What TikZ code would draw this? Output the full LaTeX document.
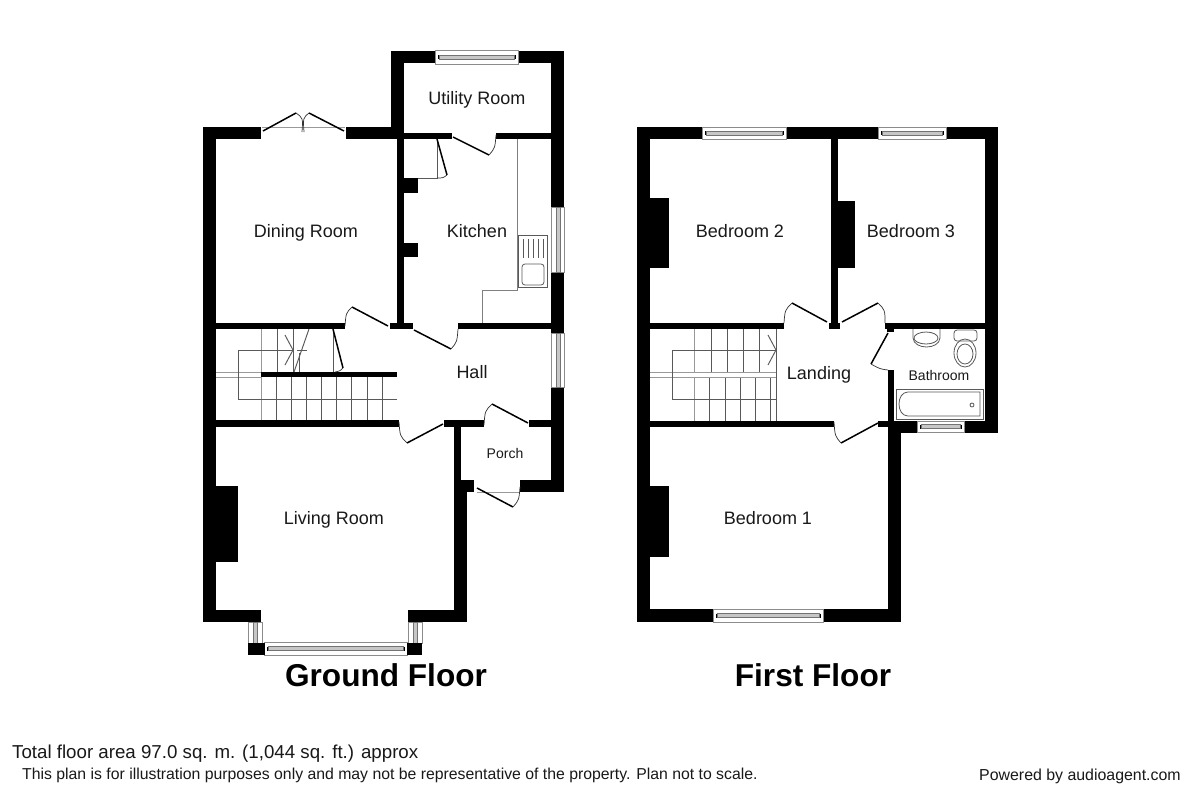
\documentclass[tikz,border=0pt]{standalone}
\usepackage{fontspec}
\setmainfont{Liberation Sans}
\tikzset{
  wall/.style={fill=black},
  leaf/.style={draw=black,line width=1.5pt},
  swing/.style={draw=black!80,line width=0.7pt},
  thinline/.style={draw=black!65,line width=0.95pt},
  counter/.style={draw=black!50,line width=0.9pt},
  paleline/.style={draw=black!40,line width=1pt},
  fit/.style={draw=black!65,line width=0.8pt},
  room/.style={inner sep=0pt,text=black!90,font=\fontsize{18}{20}\selectfont},
  smallroom/.style={inner sep=0pt,text=black!90,font=\fontsize{14}{16}\selectfont},
  floortitle/.style={inner sep=0pt,font=\fontsize{31.6}{34}\selectfont\bfseries},
  foot/.style={inner sep=0pt,anchor=west,text=black!90}
}
% horizontal window: x1,x2,y1,y2
\newcommand{\hwin}[4]{%
  \draw[fill=white,draw=black!45,line width=0.7pt] (#1,#3) rectangle (#2,#4);
  \draw[fill=black!22,draw=black!55,line width=0.5pt] ({#1+4},{(#3+#4)/2-2}) rectangle ({#2-4},{(#3+#4)/2+2});
  \draw[black,line width=0.8pt] ({#1+3},{(#3+#4)/2-2}) -- ({#1+3},{(#3+#4)/2+2}) ({#2-3},{(#3+#4)/2-2}) -- ({#2-3},{(#3+#4)/2+2});
}
% vertical window: x1,x2,y1,y2
\newcommand{\vwin}[4]{%
  \draw[fill=white,draw=black!45,line width=0.7pt] (#1,#3) rectangle (#2,#4);
  \draw[fill=black!22,draw=black!55,line width=0.5pt] ({(#1+#2)/2-2},#3) rectangle ({(#1+#2)/2+2},#4);
}
\newcommand{\rect}[4]{\fill[wall] (#1,#2) rectangle (#3,#4);}
\newcommand{\door}[4]{% hinge, tip, control, end
  \draw[leaf] #1 -- #2;
  \draw[swing] #2 .. controls #3 .. #4;
}
\begin{document}
\begin{tikzpicture}[x=1pt,y=-1pt]
\useasboundingbox (0,0) rectangle (1200,800);
\fill[white] (0,0) rectangle (1200,800);

%%% GROUND FLOOR walls
\rect{203}{127}{261}{139}
\rect{346}{127}{404}{139}
\rect{203}{127}{216}{622}
\rect{391}{51}{404}{139}
\rect{391}{51}{435}{63.5}
\rect{518}{51}{564}{63.5}
\rect{551}{51}{564}{207}
\rect{551}{272}{564}{333}
\rect{551}{387}{564}{492}
\rect{404}{133}{452}{139}
\rect{496}{133}{551}{139}
\rect{397}{139}{404}{325}
\rect{404}{178}{418}{193}
\rect{404}{243}{418}{257}
\rect{216}{323}{345}{329}
\rect{390}{323}{413}{329}
\rect{458}{323}{551}{329}
\rect{261}{372}{397}{377}
\rect{216}{420}{399}{427}
\rect{444}{420}{484}{427}
\rect{529}{420}{551}{427}
\rect{454}{427}{461}{480}
\rect{454}{480}{474}{492}
\rect{454}{492}{467}{622}
\rect{520}{480}{564}{492}
\rect{216}{486}{238}{562}
\rect{203}{610}{261}{622}
\rect{408}{610}{467}{622}

%%% windows ground floor
\hwin{435}{518}{50.5}{64}
\vwin{551.5}{564}{207}{272}
\vwin{551.5}{564}{333}{387}
\vwin{248}{262}{622}{643}
\vwin{408}{422}{622}{643}
\hwin{264}{407}{642}{655}
\rect{248}{643}{264.5}{655}
\rect{407}{643}{422}{655}

%%% doors ground floor
\draw[paleline] (262,127.5) -- (345,127.5);
\door{(263,131)}{(296,113)}{(303,118)}{(302,132)}
\door{(344,131)}{(309,113)}{(303,118)}{(304,132)}
\door{(453,137)}{(489,155)}{(495,148)}{(496,135)}
\draw[fit] (418,178) -- (437,178) -- (437,139);
\door{(437,139)}{(447,175)}{(443,178)}{(437,178)}
\door{(388,326)}{(352,307)}{(346,313)}{(345,326)}
\door{(414,330)}{(451,349)}{(457,342)}{(458,329)}
\door{(443,424)}{(407,443)}{(400,436)}{(399,422)}
\door{(528,423)}{(492,404)}{(485,411)}{(484,425)}
\draw[paleline] (477,492) -- (520,492);
\door{(477,488)}{(513,507)}{(519,500)}{(520,487)}
\draw[fit] (333,329) -- (333,372);
\door{(333,329)}{(343,368)}{(340,371)}{(335,372)}

%%% kitchen fittings
\draw[counter] (517,139) -- (517,290) -- (482,290) -- (482,323);
\draw[fit,fill=white] (518,235) rectangle (547,287);
\draw[fit,rounded corners=3pt] (522,264) rectangle (544,285);
\foreach \xr in {523,528,533,538,543}{\draw[fit] (\xr,239) -- (\xr,258);}

%%% stairs ground floor
\foreach \xs in {277,293}{\draw[thinline] (\xs,329) -- (\xs,372);}
\draw[paleline] (261,329) -- (261,372);
\draw[thinline] (309,329) -- (294,372);
\draw[thinline] (299,353) -- (299,372);
\draw[paleline] (216,372) -- (261,372) (216,377) -- (261,377);
\draw[paleline] (261,377) -- (261,420);
\foreach \xs in {276,291,306,321,336,351,367,382}{\draw[thinline] (\xs,377) -- (\xs,420);}
\draw[thinline] (293,350) -- (238,350) -- (238,399) -- (397,399);
\draw[thinline] (285,335) -- (293,350) -- (285,365);
\draw[thinline] (297,350) -- (307,350);

%%% FIRST FLOOR walls
\rect{637}{127}{702}{139}
\rect{786}{127}{878}{139}
\rect{946}{127}{998}{139}
\rect{637}{127}{650}{622}
\rect{985}{127}{998}{433}
\rect{831}{139}{838}{323}
\rect{650}{198}{669}{268}
\rect{838}{201}{855}{268}
\rect{650}{486}{669}{557}
\rect{650}{323}{784}{329}
\rect{829}{323}{840}{329}
\rect{885}{323}{985}{329}
\rect{887}{329}{894}{332}
\rect{888}{370}{894}{421}
\rect{650}{421}{834}{427}
\rect{878}{421}{917}{427}
\rect{888}{427}{917}{433}
\rect{964}{421}{998}{433}
\rect{888}{427}{901}{622}
\rect{637}{609}{713}{622}
\rect{823}{609}{901}{622}

%%% windows first floor
\hwin{702}{786}{127}{139}
\hwin{878}{946}{127}{139}
\hwin{713}{823}{609}{622}
\hwin{917}{964}{421}{432}

%%% doors first floor
\door{(827,322)}{(792,303)}{(785,310)}{(784,323)}
\door{(842,322)}{(878,303)}{(885,310)}{(885,323)}
\door{(888,333)}{(871,364)}{(880,369)}{(888,370)}
\door{(878,423)}{(841,443)}{(835,436)}{(834,422)}

%%% stairs first floor
\draw[paleline] (694,329) -- (694,372);
\foreach \xs in {711,727,743,759}{\draw[thinline] (\xs,329) -- (\xs,372);}
\draw[paleline] (694,377) -- (694,421);
\foreach \xs in {709,725,740,755,770}{\draw[thinline] (\xs,377) -- (\xs,421);}
\draw[thinline] (776,329) -- (776,421);
\draw[paleline] (650,372) -- (776,372) (650,377) -- (776,377);
\draw[thinline] (776,350) -- (672,350) -- (672,399) -- (776,399);
\draw[thinline] (768,335) -- (776,350) -- (768,365);

%%% bathroom
\draw[fit] (913,329) -- (913,338) .. controls (914,350) and (939,350) .. (940,338) -- (940,329);
\draw[fit] (926,338) ellipse (12 and 6);
\draw[fit,rounded corners=3pt] (954,330) rectangle (977,341);
\draw[fit] (965,353) ellipse (11 and 14);
\draw[fit] (965,354) ellipse (8 and 10);
\draw[fit] (896,389) rectangle (983,419);
\draw[fit] (980,392) -- (908,392) .. controls (896,392) and (896,416) .. (908,416) -- (980,416) -- cycle;
\draw[fit] (972,405) circle (2);

%%% labels
\node[room] (utility) at (477,100) {Utility Room};
\node[room] (dining) at (306,233) {Dining Room};
\node[room] (kitchen) at (477,231) {Kitchen};
\node[room] (hall) at (472,372) {Hall};
\node[smallroom] (porch) at (505,453) {Porch};
\node[room] (living) at (334,520) {Living Room};
\node[room] (bed2) at (740,231) {Bedroom 2};
\node[room] (bed3) at (911,231) {Bedroom 3};
\node[room] (landing) at (819,375) {Landing};
\node[smallroom] (bath) at (939,375) {Bathroom};
\node[room] (bed1) at (768,518) {Bedroom 1};
\node[floortitle] (gf) at (386,675) {Ground Floor};
\node[floortitle] (ff) at (813,675) {First Floor};
\node[foot,font=\fontsize{18.7}{21}\selectfont] (area) at (12,754) {Total floor area 97.0 sq. m. (1,044 sq. ft.) approx};
\node[foot,font=\fontsize{15.8}{18}\selectfont] (note) at (22,775) {This plan is for illustration purposes only and may not be representative of the property. Plan not to scale.};
\node[foot,font=\fontsize{15.9}{18}\selectfont] (powered) at (979,776) {Powered by audioagent.com};
\end{tikzpicture}
\end{document}
